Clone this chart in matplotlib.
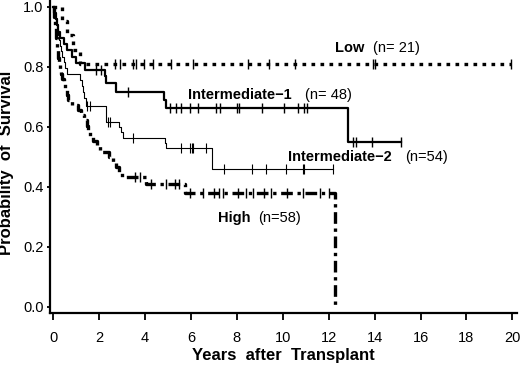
import numpy as np
import matplotlib
matplotlib.use("Agg")
import matplotlib.pyplot as plt

plt.rcParams['font.family'] = ['Liberation Sans', 'DejaVu Sans']

# ---------------- data ----------------
# Low (n=21)
low_t = [0.0, 0.4, 0.6, 0.85, 1.15, 19.93]
low_s = [1.0, 0.952, 0.905, 0.857, 0.81, 0.81]
low_cens = [2.68, 2.93, 3.48, 3.62, 3.94, 4.35, 5.14, 6.09, 8.48, 9.39, 10.55,
            13.91, 14.03, 19.93]

# Intermediate-1 (n=48)
int1_t = [0.0, 0.05, 0.1, 0.15, 0.2, 0.3, 0.45, 0.6, 0.8, 1.0, 1.38, 2.25, 2.3,
          2.75, 4.83, 4.9, 12.83, 15.14]
int1_s = [1.0, 0.979, 0.958, 0.938, 0.917, 0.896, 0.875, 0.854, 0.833, 0.812,
          0.79, 0.768, 0.745, 0.714, 0.69, 0.662, 0.548, 0.548]
int1_cens = [1.88, 2.1, 3.26, 5.07, 5.36, 5.58, 5.97, 6.3, 7.1, 7.25, 8.0, 8.09,
             9.1, 10.07, 10.65, 10.94, 11.04, 13.04, 13.19, 13.9, 15.14]

# Intermediate-2 (n=54)
int2_t = [0.0, 0.04, 0.08, 0.12, 0.16, 0.2, 0.25, 0.3, 0.35, 0.4, 0.45, 0.5,
          0.6, 1.18, 1.24, 1.3, 1.36, 1.42, 2.28, 2.3, 2.32, 2.85, 2.95, 3.05,
          4.86, 4.9, 6.9, 6.92, 12.17]
int2_s = [1.0, 0.981, 0.963, 0.944, 0.926, 0.907, 0.889, 0.870, 0.852, 0.833,
          0.815, 0.796, 0.777, 0.757, 0.737, 0.717, 0.697, 0.668, 0.648, 0.630,
          0.616, 0.600, 0.582, 0.562, 0.545, 0.528, 0.494, 0.46, 0.46]
int2_cens = [1.48, 1.6, 2.38, 2.47, 3.48, 5.58, 5.97, 6.03, 6.09, 6.67, 7.42,
             8.65, 9.28, 10.14, 10.87, 10.94, 12.17]

# High (n=58)
high_t = [0.0, 0.02, 0.04, 0.06, 0.08, 0.1, 0.13, 0.15, 0.18, 0.2, 0.22, 0.26,
          0.3, 0.36, 0.4, 0.45, 0.5, 0.58, 0.65, 0.8, 1.1, 1.2, 1.35, 1.45, 1.5,
          1.6, 1.75, 1.9, 2.05, 2.45, 2.6, 2.75, 2.85, 3.0, 4.05, 5.72, 12.27]
high_s = [1.0, 0.983, 0.966, 0.948, 0.931, 0.914, 0.897, 0.879, 0.862, 0.845,
          0.828, 0.810, 0.793, 0.776, 0.759, 0.741, 0.724, 0.707, 0.690, 0.672,
          0.655, 0.638, 0.621, 0.603, 0.586, 0.569, 0.552, 0.534, 0.517, 0.500,
          0.483, 0.466, 0.448, 0.431, 0.41, 0.378, 0.0]
high_cens = [3.55, 3.77, 4.28, 4.93, 5.29, 5.5, 5.94, 6.52, 7.0, 7.2, 7.4, 8.04,
             8.4, 8.7, 9.2, 9.5, 10.2, 10.9, 11.6, 12.0]

xticks = [0, 2, 4, 6, 8, 10, 12, 14, 16, 18, 20]
yticks = [0.0, 0.2, 0.4, 0.6, 0.8, 1.0]

# ---------------- figure ----------------
fig = plt.figure(figsize=(5.2, 3.67), dpi=100)
ax = fig.add_axes([50/520, 1-313/367, 467/520, 313/367])

def surv_at(t, times, surv):
    idx = np.searchsorted(np.asarray(times), np.asarray(t), side='right') - 1
    return np.asarray(surv)[np.clip(idx, 0, len(surv)-1)]

styles = [
    (low_t, low_s, low_cens, dict(lw=2.4, ls=(0, (1.1, 1.6)), dash_capstyle='butt'), 1.0),
    (int1_t, int1_s, int1_cens, dict(lw=1.6, ls='-'), 1.0),
    (int2_t, int2_s, int2_cens, dict(lw=0.8, ls='-'), 0.8),
    (high_t, high_s, high_cens, dict(lw=2.4, ls=(0, (3.5, 1.4, 1.0, 1.4)), dash_capstyle='butt'), 1.0),
]
for t, s, c, st, mew in styles:
    ax.step(t, s, where='post', color='black', **st)
    ax.plot(c, surv_at(c, t, s), ls='none', marker='|', ms=6.5, mew=mew, color='black')

# labels on curves
tk = dict(fontsize=10.5, color='black', va='center', ha='left')
ax.text(12.27, 0.862, 'Low', fontweight='bold', **tk)
ax.text(13.93, 0.862, '(n= 21)', **tk)
ax.text(5.87, 0.705, 'Intermediate\u22121', fontweight='bold', **tk)
ax.text(10.97, 0.705, '(n= 48)', **tk)
ax.text(10.23, 0.50, 'Intermediate\u22122', fontweight='bold', **tk)
ax.text(15.32, 0.50, '(n=54)', **tk)
ax.text(7.18, 0.296, 'High', fontweight='bold', **tk)
ax.text(8.92, 0.296, '(n=58)', **tk)

ax.set_xlim(-0.14, 20.2)
ax.set_ylim(-0.021, 1.022)
ax.set_xticks(xticks)
ax.set_xticklabels([str(v) for v in xticks])
ax.set_yticks(yticks)
ax.set_yticklabels(['%.1f' % v for v in yticks])
ax.tick_params(axis='x', direction='out', length=5, width=1.3, pad=8, labelsize=10.5)
ax.tick_params(axis='y', direction='out', length=2.5, width=1.3, pad=2, labelsize=10.5)

for side in ['top', 'right']:
    ax.spines[side].set_visible(False)
for side in ['left', 'bottom']:
    ax.spines[side].set_linewidth(1.6)

ax.set_xlabel('Years  after  Transplant', fontsize=12, fontweight='bold')
ax.set_ylabel('Probability  of  Survival', fontsize=12, fontweight='bold')
ax.xaxis.set_label_coords(0.50, -0.112)
ax.yaxis.set_label_coords(-0.077, 0.48)

fig.savefig('out.png', dpi=100)
